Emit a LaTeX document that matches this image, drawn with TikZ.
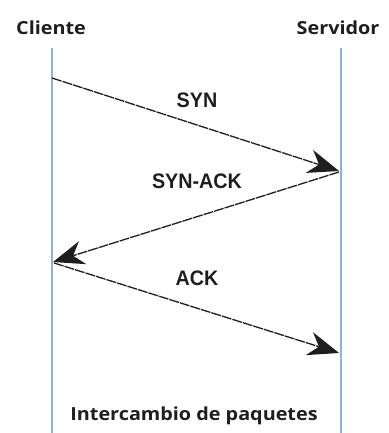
\documentclass[tikz,border=0pt]{standalone}
\usepackage{fontspec}
\usepackage{graphicx}
\setmainfont{Open Sans}
\newfontfamily\msgfont{Liberation Sans}
\usetikzlibrary{arrows.meta}
\definecolor{lifeline}{HTML}{86B6DC}
\definecolor{msgcol}{HTML}{1E1E1E}
\newcommand{\wide}[2]{\scalebox{#1}[1]{#2}}
\begin{document}
\begin{tikzpicture}[x=1pt,y=-1pt,
  party/.style={font=\fontsize{18}{18}\selectfont\bfseries, text=msgcol, inner sep=0pt},
  msglabel/.style={font=\msgfont\fontsize{21}{21}\selectfont\bfseries, text=msgcol, inner sep=0pt},
  life/.style={draw=lifeline, line width=1.8pt},
  msg/.style={draw=msgcol, line width=1.3pt, dash pattern=on 10pt off 1pt,
    -{Stealth[length=31pt,width=24pt,inset=10pt]}}]
\useasboundingbox (0,0) rectangle (388,433);
% participants
\node[party] (cli) at (51,28) {\wide{1.1}{Cliente}};
\node[party] (srv) at (338,28) {\wide{1.1}{Servidor}};
\coordinate (cliTop) at (52,48);
\coordinate (cliBot) at (52,433);
\coordinate (srvTop) at (341,48);
\coordinate (srvBot) at (341,433);
\draw[life] (cliTop) -- (cliBot);
\draw[life] (srvTop) -- (srvBot);
% message endpoints on the lifelines
\coordinate (c1) at (52,78);
\coordinate (s1) at (339,171);
\coordinate (s2) at (339,172);
\coordinate (c2) at (53,262);
\coordinate (c3) at (54,263);
\coordinate (s3) at (339,353);
\draw[msg] (c1) -- (s1);
\draw[msg] (s2) -- (c2);
\draw[msg] (c3) -- (s3);
% message labels
\node[msglabel] (syn) at (197,100) {\wide{0.94}{SYN}};
\node[msglabel] (synack) at (197,181) {\wide{0.94}{SYN-ACK}};
\node[msglabel] (ack) at (197,278) {\wide{0.94}{ACK}};
% caption
\node[party] (cap) at (194,416) {\wide{1.1}{Intercambio de paquetes}};
\end{tikzpicture}
\end{document}
